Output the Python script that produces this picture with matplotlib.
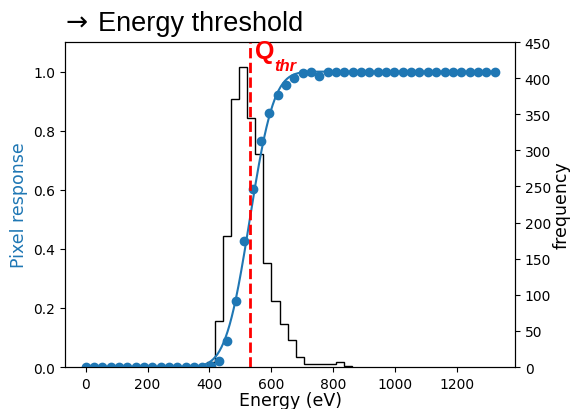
import math
import numpy as np
import matplotlib
matplotlib.use("Agg")
import matplotlib.pyplot as plt

# pixel response scan (energy in eV)
energy = [0, 26.9, 53.9, 80.8, 107.8, 134.7, 161.6, 188.6, 215.5, 242.4,
          269.4, 296.3, 323.3, 350.2, 377.1, 404.1, 431.0, 458.0, 484.9, 511.8,
          538.8, 565.7, 592.7, 619.6, 646.5, 673.5, 700.4, 727.3, 754.3, 781.2,
          808.2, 835.1, 862.0, 889.0, 915.9, 942.9, 969.8, 996.7, 1023.7, 1050.6,
          1077.6, 1104.5, 1131.4, 1158.4, 1185.3, 1212.2, 1239.2, 1266.1, 1293.1, 1320.0]
response = [0, 0, 0, 0, 0, 0, 0, 0, 0, 0,
            0, 0, 0, 0, 0, 0.003, 0.019, 0.087, 0.222, 0.426,
            0.604, 0.765, 0.859, 0.921, 0.955, 0.980, 0.994, 0.997, 0.986, 0.997,
            1.0, 1.0, 1.0, 1.0, 1.0, 1.0, 1.0, 1.0, 1.0, 1.0,
            1.0, 1.0, 1.0, 1.0, 1.0, 1.0, 1.0, 1.0, 1.0, 1.0]

# erf fit parameters
q_thr = 530
sigma = 61

# threshold distribution histogram
bin_edges = [392, 418, 444, 470, 496, 522, 548, 574, 600, 626, 652,
             678, 704, 730, 756, 782, 808, 834, 860]
counts = [7, 64, 182, 371, 415, 345, 295, 144, 92, 60, 37, 14, 4, 4, 4, 4, 7, 2]

fig, ax = plt.subplots(figsize=(5.71, 4.10), dpi=100)
fig.subplots_adjust(left=0.114, right=0.902, bottom=0.1024, top=0.895)

ax2 = ax.twinx()
ax2.stairs(counts, bin_edges, color="black", linewidth=1.0)
ax2.set_ylim(0, 450)
ax2.set_ylabel("frequency", fontsize=12.5, labelpad=1)

e_fit = np.linspace(0, 1320, 600)
fit = [0.5 * (1 + math.erf((e - q_thr) / (math.sqrt(2) * sigma))) for e in e_fit]
ax.plot(e_fit, fit, color="C0", linewidth=1.5)
ax.plot(energy, response, "o", color="C0", markersize=6)
ax.set_ylim(0, 1.1)
ax.set_xlabel("Energy (eV)", fontsize=12.5, labelpad=0)
ax.set_ylabel("Pixel response", fontsize=12.5, color="C0")

ax.set_zorder(ax2.get_zorder() + 1)
ax.patch.set_visible(False)

ax.axvline(q_thr, color="red", linestyle="--", linewidth=2)

fig.text(0.447, 0.855, "Q", color="red", fontsize=18, fontweight="bold",
         family=["Liberation Sans", "DejaVu Sans"])
fig.text(0.481, 0.826, "thr", color="red", fontsize=12, fontweight="bold",
         style="italic", family=["Liberation Sans", "DejaVu Sans"])

fig.text(0.114, 0.925, "\u2192", fontsize=19, family="DejaVu Sans")
fig.text(0.172, 0.925, "Energy threshold", fontsize=19.5,
         family=["Liberation Sans", "DejaVu Sans"])

fig.savefig("out.png", dpi=100)
